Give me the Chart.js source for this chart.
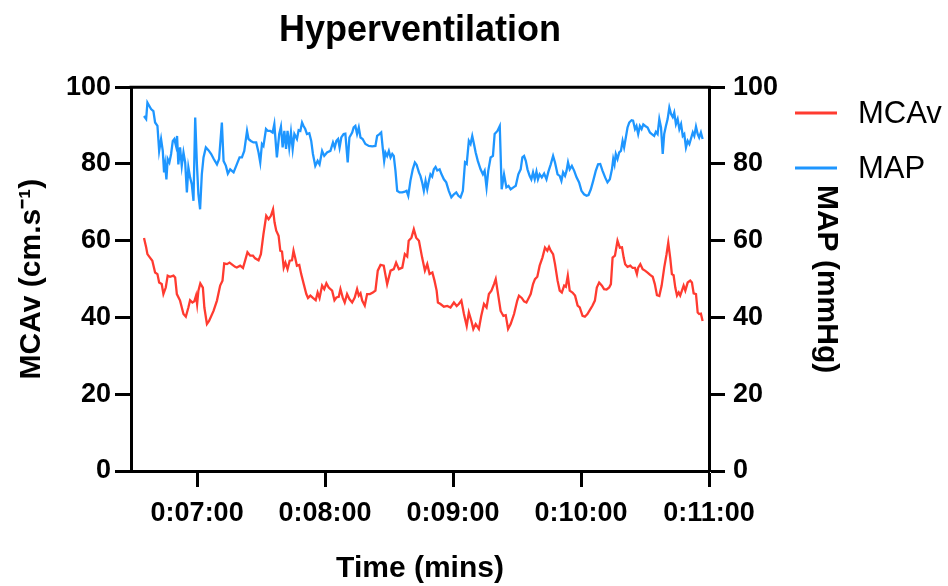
<!DOCTYPE html>
<html>
<head>
<meta charset="utf-8">
<title>Hyperventilation</title>
<script src="https://cdn.jsdelivr.net/npm/chart.js"></script>
<style>
  html, body { margin: 0; padding: 0; background: #fff; }
  #wrap { width: 948px; height: 586px; }
</style>
</head>
<body>
<div id="wrap"><canvas id="chart" width="948" height="586"></canvas></div>
<script>
// time in seconds from start of recording
const mcavTime = [
  395.1,396.1,396.7,397.9,399.0,400.3,401.4,402.2,403.4,404.2,
  405.3,406.2,407.3,408.9,409.7,410.5,412.0,413.6,414.7,415.9,
  416.7,417.8,418.7,419.5,420.0,420.6,421.5,422.7,423.4,424.6,
  425.6,427.7,429.3,430.8,431.9,432.7,434.0,435.2,436.6,437.8,
  438.6,440.2,441.5,442.5,443.6,444.9,446.2,447.2,448.8,449.9,
  451.1,452.4,453.5,454.6,455.6,456.3,457.1,458.2,459.0,459.8,
  460.6,461.4,462.4,463.4,464.5,465.2,466.0,466.8,467.9,468.8,
  470.0,471.2,472.0,473.1,474.3,475.6,476.5,477.4,478.6,479.6,
  480.6,481.7,483.3,484.4,485.3,486.4,487.2,488.3,489.2,490.3,
  491.4,492.7,493.9,495.0,495.8,496.6,497.4,498.6,499.7,501.0,
  502.4,503.6,504.7,506.0,507.5,509.1,510.7,512.2,513.3,514.6,
  516.2,517.4,518.5,519.2,520.5,521.6,522.7,524.0,525.5,526.8,
  527.9,529.0,530.3,531.3,532.3,532.9,534.1,535.7,537.3,538.8,
  540.4,541.7,542.7,543.9,545.1,546.4,547.4,548.6,549.5,550.6,
  552.1,553.2,554.5,555.7,556.8,558.0,559.2,560.0,561.1,562.3,
  563.6,564.7,565.8,567.0,568.6,570.1,570.9,572.2,573.3,574.4,
  575.6,576.4,577.5,578.4,579.5,580.6,581.9,583.1,584.2,585.0,
  585.8,586.9,587.8,589.0,590.0,591.0,592.1,592.9,593.8,594.7,
  596.0,597.2,598.4,599.4,600.7,601.8,603.0,604.1,605.4,606.5,
  607.4,608.5,609.8,610.8,612.0,613.2,614.0,614.8,615.9,617.1,
  618.2,619.2,620.0,620.7,621.8,623.1,624.2,625.3,626.2,626.8,
  627.8,628.9,630.0,631.2,632.4,633.6,634.6,635.6,636.7,637.8,
  639.0,640.1,640.9,641.8,642.6,643.4,644.2,645.0,645.8,646.5,
  647.3,648.1,648.9,650.0,651.2,652.0,652.8,653.9,654.7,655.4,
  656.2,657.0
];
const mcavValues = [
  60.7,58.3,56.5,55.6,54.8,51.7,51.3,49.1,48.7,46.1,
  47.8,50.9,50.6,50.9,50.4,46.1,44.4,40.9,40.2,42.6,
  44.5,43.9,44.2,45.7,43.5,47.0,48.9,47.8,42.6,38.3,
  39.1,41.7,44.4,48.3,49.6,54.1,53.9,54.3,53.7,53.2,
  53.0,53.5,52.9,54.8,57.0,56.1,56.1,55.4,54.9,56.5,
  61.7,66.5,65.6,66.5,68.2,64.8,62.6,61.3,57.4,57.2,
  53.0,54.3,52.6,54.8,54.9,57.4,55.5,53.5,53.7,51.3,
  48.7,46.1,45.1,45.7,45.1,44.5,46.5,45.1,48.3,47.4,
  48.9,47.8,47.0,44.5,45.2,45.4,47.4,45.1,43.9,46.1,
  44.8,43.9,45.2,47.4,45.7,46.3,44.4,43.1,46.1,46.1,
  46.5,47.0,52.2,53.7,53.5,48.7,52.2,52.6,54.3,52.6,
  53.0,56.5,55.9,60.0,60.8,63.0,60.8,60.0,55.6,52.2,
  53.9,51.3,51.7,49.6,47.0,43.9,43.5,42.8,43.0,42.6,
  43.9,43.0,43.5,44.4,40.9,37.8,41.3,39.1,37.0,38.3,
  37.0,40.4,43.5,42.6,46.1,47.0,48.7,50.0,46.1,41.7,
  40.4,40.6,37.0,38.3,40.9,44.4,45.7,45.1,44.2,43.9,
  45.2,46.1,48.7,50.0,50.6,53.5,55.6,58.2,57.4,58.4,
  57.4,56.5,53.9,49.6,47.0,46.5,48.3,48.0,50.9,47.0,
  46.5,45.7,43.1,42.6,40.4,40.2,40.9,41.9,43.1,44.4,
  47.8,49.1,48.3,47.4,47.3,47.8,48.7,55.6,56.1,60.0,
  58.2,58.3,55.6,53.9,53.2,53.5,52.9,52.9,51.3,53.0,
  53.9,52.6,52.2,51.7,51.1,50.6,48.7,45.8,45.6,48.3,
  53.0,56.5,59.5,55.6,51.3,51.0,47.8,45.7,46.5,45.7,
  47.0,48.3,47.0,49.1,49.6,49.1,46.3,46.1,41.3,40.9,
  41.0,39.1
];

const mapTime = [
  395.1,396.1,396.7,397.6,398.4,399.5,400.3,401.4,402.2,403.1,
  403.9,404.5,405.0,405.6,406.2,407.0,407.8,408.6,409.3,410.1,
  410.6,411.2,412.0,412.8,413.6,414.4,415.2,415.9,416.7,417.5,
  418.3,419.1,419.9,420.6,421.4,422.2,423.0,424.1,425.3,426.6,
  427.8,429.3,430.3,431.6,432.4,433.5,434.4,435.5,437.1,438.6,
  439.9,441.0,442.1,443.4,444.1,445.2,446.4,447.7,448.8,449.6,
  450.4,451.1,452.3,453.2,454.3,455.4,456.2,457.4,458.5,459.3,
  460.1,460.9,461.7,462.4,463.2,464.0,464.8,465.6,466.8,467.6,
  468.4,469.2,469.9,470.7,471.5,472.6,473.5,474.3,475.4,476.5,
  477.4,478.6,479.6,480.9,482.5,483.7,484.5,485.3,486.1,486.8,
  487.6,488.7,489.5,490.6,491.4,492.7,493.4,494.2,495.0,495.8,
  496.6,497.6,498.9,500.5,502.1,503.6,504.4,505.5,506.3,507.0,
  507.7,508.3,509.1,509.9,510.7,511.5,512.2,513.0,513.8,514.9,
  516.2,517.4,518.2,519.0,520.0,521.1,522.1,522.9,524.0,524.7,
  525.5,526.3,527.1,527.9,528.6,529.4,530.2,531.0,531.8,532.6,
  533.7,534.6,535.7,536.8,538.0,539.2,540.4,541.5,542.5,543.5,
  544.6,545.6,546.4,547.4,548.2,549.0,549.8,550.6,551.6,552.9,
  554.0,554.8,555.7,556.5,557.6,558.7,559.5,560.8,561.9,562.8,
  563.9,565.0,566.0,567.0,568.3,569.4,570.6,571.7,572.5,573.3,
  574.1,574.9,575.9,576.7,577.5,578.3,579.1,579.8,580.6,581.6,
  582.7,583.8,584.7,585.8,586.9,587.8,589.0,590.0,590.8,591.6,
  592.5,593.2,593.9,594.7,595.7,596.8,597.9,599.1,600.2,601.4,
  602.6,603.5,604.6,605.7,606.9,608.0,609.0,610.1,611.3,612.4,
  613.5,614.5,615.1,615.7,616.3,617.1,617.9,618.7,619.5,620.2,
  621.0,621.8,622.6,623.7,624.4,625.3,626.0,626.8,627.6,628.4,
  629.2,630.1,631.2,632.3,633.2,634.3,635.1,635.9,636.7,637.5,
  638.3,639.0,639.8,640.6,641.4,642.2,643.0,643.7,644.5,645.3,
  646.1,646.9,647.7,648.4,649.2,650.0,650.8,651.5,652.4,653.1,
  653.9,654.7,655.4,656.2,657.0
];
const mapValues = [
  92.5,91.7,96.0,95.1,94.3,93.8,90.8,89.9,83.4,86.5,
  83.4,77.8,79.9,76.0,81.3,80.4,82.6,86.0,86.5,84.7,
  87.3,79.9,84.3,79.5,83.0,80.4,72.6,79.1,76.5,74.7,
  70.4,92.1,79.9,72.1,68.2,77.3,81.7,84.3,83.6,82.6,
  81.3,79.9,81.3,90.8,80.8,79.5,77.5,78.6,77.8,79.9,
  81.7,81.7,83.4,88.6,86.5,86.0,85.6,85.6,83.0,80.4,
  85.2,84.7,89.1,88.6,88.6,88.2,90.4,81.7,87.8,89.7,
  84.3,88.6,83.9,88.6,84.3,88.2,83.9,87.8,86.5,88.8,
  88.6,90.8,89.9,89.1,87.8,88.0,86.0,82.6,79.5,80.8,
  79.9,83.4,82.1,83.0,83.4,85.6,84.3,86.0,86.5,84.3,
  86.9,87.8,87.9,80.4,86.9,88.2,89.5,89.9,87.8,89.5,
  86.9,86.5,85.2,84.7,84.6,84.7,87.3,87.8,88.2,84.3,
  80.8,83.0,82.1,83.4,81.7,82.6,82.1,78.2,73.0,72.6,
  72.6,72.8,73.0,71.7,75.6,78.6,80.4,79.8,77.8,76.9,
  75.2,73.0,75.6,73.4,75.4,77.3,76.7,78.6,79.2,78.3,
  78.6,77.3,76.0,75.2,73.0,71.3,72.1,72.6,71.7,71.3,
  73.0,80.4,80.0,86.0,85.2,87.3,85.2,83.0,80.8,78.6,
  77.3,78.2,73.9,78.2,81.7,82.1,87.8,88.6,89.9,73.4,
  77.3,73.9,74.3,73.4,73.9,74.3,77.3,78.6,81.7,82.1,
  80.8,78.6,76.9,76.0,77.8,76.0,78.0,76.0,77.3,76.5,
  77.5,76.0,78.0,79.9,82.1,80.4,77.3,76.9,75.6,77.8,
  76.9,78.2,80.4,78.6,79.5,78.2,76.5,75.2,73.0,72.1,
  71.7,71.9,73.4,75.6,78.2,79.9,80.0,78.2,76.5,75.2,
  76.0,78.6,81.3,79.9,82.6,81.3,83.0,83.4,86.0,84.3,
  86.9,89.5,90.8,91.4,91.3,89.1,89.9,87.8,89.9,89.1,
  90.3,89.9,89.5,88.2,87.8,87.3,88.4,87.8,91.7,89.5,
  82.6,87.8,89.9,91.7,94.7,93.0,92.2,93.4,90.4,91.7,
  89.1,90.4,87.3,87.8,84.3,86.0,85.2,86.5,88.2,87.3,
  89.7,87.8,86.9,88.2,86.5
];

const timeTicks = [420, 480, 540, 600, 660];
const yTicks = [0, 20, 40, 60, 80, 100];

const FONT = '"Liberation Sans", Arial, Helvetica, sans-serif';
Chart.defaults.font.family = FONT;
Chart.defaults.color = '#000';

const toPoints = (xs, ys) => xs.map((x, i) => ({x: x, y: ys[i]}));

const fmtTime = (v) => {
    const m = Math.floor(v / 60);
    const s = Math.round(v % 60);
    return '0:' + String(m).padStart(2, '0') + ':' + String(s).padStart(2, '0');
};

// box on top of the plot + legend at the right
const framePlugin = {
    id: 'frame',
    afterDraw(chart) {
        const ctx = chart.ctx;
        const a = chart.chartArea;
        ctx.save();
        ctx.strokeStyle = '#000';
        ctx.lineWidth = 3;
        ctx.beginPath();
        ctx.moveTo(a.left - 1.5, a.top);
        ctx.lineTo(a.right + 1.5, a.top);
        ctx.stroke();

        ctx.font = '31px ' + FONT;
        ctx.textBaseline = 'middle';
        ctx.textAlign = 'left';
        chart.data.datasets.forEach((ds, i) => {
            const y = 113 + i * 55;
            ctx.strokeStyle = ds.borderColor;
            ctx.lineWidth = 3;
            ctx.beginPath();
            ctx.moveTo(795, y);
            ctx.lineTo(837, y);
            ctx.stroke();
            ctx.fillStyle = '#000';
            ctx.fillText(ds.label, 858, y + 1);
        });
        ctx.restore();
    }
};

const axisCommon = {
    border: {color: '#000', width: 3},
    grid: {drawOnChartArea: false, drawTicks: true, tickLength: 16, tickWidth: 3, tickColor: '#000'}
};

const chart = new Chart(document.getElementById('chart'), {
    type: 'line',
    data: {
        datasets: [{
            label: 'MCAv',
            data: toPoints(mcavTime, mcavValues),
            borderColor: '#ff3b30',
            yAxisID: 'y'
        }, {
            label: 'MAP',
            data: toPoints(mapTime, mapValues),
            borderColor: '#1e96ff',
            yAxisID: 'y1'
        }]
    },
    options: {
        responsive: false,
        animation: false,
        layout: {padding: {left: 0, right: 99, top: 0, bottom: 0}},
        elements: {
            point: {radius: 0},
            line: {borderWidth: 2.3, tension: 0}
        },
        plugins: {
            legend: {display: false},
            tooltip: {enabled: false},
            title: {
                display: true,
                text: 'Hyperventilation',
                fullSize: false,
                color: '#000',
                font: {size: 36, weight: 'bold'},
                padding: {top: 9, bottom: 35}
            }
        },
        scales: {
            x: {
                ...axisCommon,
                type: 'linear',
                position: 'bottom',
                min: 389,
                max: 660,
                afterBuildTicks: (s) => { s.ticks = timeTicks.map(v => ({value: v})); },
                afterFit: (s) => { s.height = 115; },
                ticks: {
                    font: {size: 27, weight: 'bold'},
                    padding: 10,
                    maxRotation: 0,
                    autoSkip: false,
                    callback: fmtTime
                },
                title: {
                    display: true,
                    text: 'Time (mins)',
                    font: {size: 30, weight: 'bold'},
                    padding: {top: 20, bottom: -1}
                }
            },
            y: {
                ...axisCommon,
                position: 'left',
                min: 0,
                max: 100,
                afterBuildTicks: (s) => { s.ticks = yTicks.map(v => ({value: v})); },
                afterFit: (s) => { s.width = 131; },
                ticks: {font: {size: 27, weight: 'bold'}, padding: 4},
                title: {
                    display: true,
                    text: 'MCAv (cm.s\u207B\u00B9)',
                    font: {size: 30, weight: 'bold'},
                    padding: {top: 14, bottom: 0}
                }
            },
            y1: {
                ...axisCommon,
                position: 'right',
                min: 0,
                max: 100,
                afterBuildTicks: (s) => { s.ticks = yTicks.map(v => ({value: v})); },
                afterFit: (s) => { s.width = 140; },
                ticks: {font: {size: 27, weight: 'bold'}, padding: 8},
                title: {
                    display: true,
                    text: 'MAP (mmHg)',
                    font: {size: 30, weight: 'bold'},
                    padding: {top: 5, bottom: 0}
                }
            }
        }
    },
    plugins: [framePlugin]
});
</script>
</body>
</html>
